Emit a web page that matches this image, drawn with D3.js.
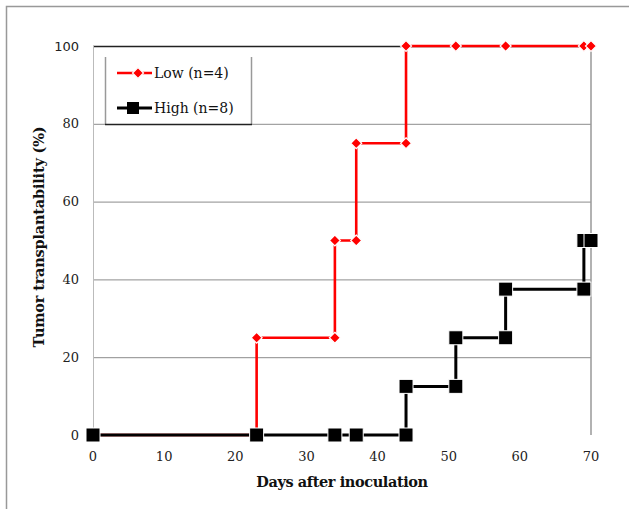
<!DOCTYPE html>
<html><head><meta charset="utf-8">
<script src="https://cdn.jsdelivr.net/npm/d3@7"></script>
<style>body{margin:0;background:#fff}svg{display:block}</style>
</head><body>
<svg id="c" width="629" height="509"></svg>
<script>
const xTicks = [0,10,20,30,40,50,60,70];
const yTicks = [0,20,40,60,80,100];
const lowDays  = [0,23,23,34,34,37,37,44,44,51,58,69,70];
const lowVals  = [0,0,25,25,50,50,75,75,100,100,100,100,100];
const highDays = [0,23,34,37,44,44,51,51,58,58,69,69,70];
const highVals = [0,0,0,0,0,12.5,12.5,25,25,37.5,37.5,50,50];
const seriesNames = ["Low (n=4)","High (n=8)"];
const xTitle = "Days after inoculation";
const yTitle = "Tumor transplantability (%)";

const svg = d3.select("#c");
const x = d3.scaleLinear().domain([0,70]).range([93,591]);
const y = d3.scaleLinear().domain([0,100]).range([435,46]);
const serif = "'DejaVu Serif','Liberation Serif',serif";

// outer border
svg.append("rect").attr("x",6.5).attr("y",6.5).attr("width",700).attr("height",600)
  .attr("fill","none").attr("stroke","#999").attr("stroke-width",1.5);

// gridlines
svg.append("g").selectAll("line").data(yTicks.filter(d=>d>0 && d<100)).join("line")
  .attr("x1",x(0)).attr("x2",x(70)).attr("y1",d=>y(d)+0.5).attr("y2",d=>y(d)+0.5)
  .attr("stroke","#8c8c8c").attr("stroke-width",1);
// top line
svg.append("line").attr("x1",x(0)).attr("x2",x(70)).attr("y1",y(100)+0.5).attr("y2",y(100)+0.5)
  .attr("stroke","#222").attr("stroke-width",1.3);
// left and right verticals
svg.append("line").attr("x1",x(0)+0.5).attr("x2",x(0)+0.5).attr("y1",y(100)).attr("y2",y(0))
  .attr("stroke","#bbb").attr("stroke-width",1);
svg.append("line").attr("x1",x(70)).attr("x2",x(70)).attr("y1",y(100)).attr("y2",y(0))
  .attr("stroke","#999").attr("stroke-width",1.5);

// y tick labels
svg.append("g").selectAll("text").data(yTicks).join("text")
  .attr("x",79).attr("y",d=>y(d)).attr("dy","0.35em").attr("text-anchor","end")
  .attr("font-family",d=>d===100?"'DejaVu Sans',sans-serif":serif)
  .attr("font-size",13).attr("fill","#222").text(d=>d);
// x tick labels
svg.append("g").selectAll("text").data(xTicks).join("text")
  .attr("x",d=>x(d)).attr("y",456).attr("dy","0.35em").attr("text-anchor","middle")
  .attr("font-family",serif).attr("font-size",13).attr("fill","#222").text(d=>d);

// titles
svg.append("text").attr("x",342).attr("y",482).attr("dy","0.35em").attr("text-anchor","middle")
  .attr("font-family",serif).attr("font-weight","bold").attr("font-size",14.5).attr("fill","#111")
  .attr("letter-spacing",-0.4).text(xTitle);
svg.append("text").attr("transform","translate(39,237) rotate(-90)").attr("dy","0.35em")
  .attr("text-anchor","middle").attr("font-family",serif).attr("font-weight","bold")
  .attr("font-size",14.5).attr("fill","#111").attr("letter-spacing",-0.2).text(yTitle);

const line = d3.line().x(d=>x(d[0])).y(d=>y(d[1]));
const lowPts = lowDays.map((d,i)=>[d,lowVals[i]]);
const highPts = highDays.map((d,i)=>[d,highVals[i]]);
const dia = "M0,-5.5L5.5,0L0,5.5L-5.5,0Z";

// Low series
svg.append("path").datum(lowPts).attr("d",line).attr("fill","none")
  .attr("stroke","#ff0000").attr("stroke-width",2.6);
svg.append("g").selectAll("path").data(lowPts).join("path")
  .attr("transform",d=>`translate(${x(d[0])},${y(d[1])})`).attr("d",dia)
  .attr("fill","#ff0000").attr("stroke","#fff").attr("stroke-width",1.2);

// High series
svg.append("path").datum(highPts).attr("d",line).attr("fill","none")
  .attr("stroke","#000").attr("stroke-width",3);
svg.append("g").selectAll("rect").data(highPts).join("rect")
  .attr("x",d=>x(d[0])-7).attr("y",d=>y(d[1])-7).attr("width",14).attr("height",14)
  .attr("fill","#000").attr("stroke","#fff").attr("stroke-width",1);

// legend
const lg = svg.append("g");
lg.append("rect").attr("x",105.5).attr("y",57).attr("width",146).attr("height",67.5)
  .attr("fill","#fff").attr("stroke","none");
lg.append("line").attr("x1",105.5).attr("x2",105.5).attr("y1",57).attr("y2",124.5).attr("stroke","#999").attr("stroke-width",1.5);
lg.append("line").attr("x1",251.5).attr("x2",251.5).attr("y1",57).attr("y2",124.5).attr("stroke","#999").attr("stroke-width",1.5);
lg.append("line").attr("x1",105).attr("x2",252).attr("y1",124.5).attr("y2",124.5).attr("stroke","#222").attr("stroke-width",1.3);
const legRows = [
  {name:seriesNames[0], y:73, color:"#ff0000", sym:"diamond", w:2.6},
  {name:seriesNames[1], y:108, color:"#000", sym:"square", w:3}
];
legRows.forEach(r=>{
  lg.append("line").attr("x1",117).attr("x2",152).attr("y1",r.y).attr("y2",r.y)
    .attr("stroke",r.color).attr("stroke-width",r.w);
  if(r.sym==="diamond"){
    lg.append("path").attr("transform",`translate(138,${r.y})`).attr("d",dia)
      .attr("fill",r.color).attr("stroke","#fff").attr("stroke-width",1.2);
  } else {
    lg.append("rect").attr("x",127).attr("y",r.y-6).attr("width",12).attr("height",12).attr("fill",r.color);
  }
  lg.append("text").attr("x",154).attr("y",r.y).attr("dy","0.35em")
    .attr("font-family",serif).attr("font-size",14).attr("fill","#111").text(r.name);
});
</script>
</body></html>
